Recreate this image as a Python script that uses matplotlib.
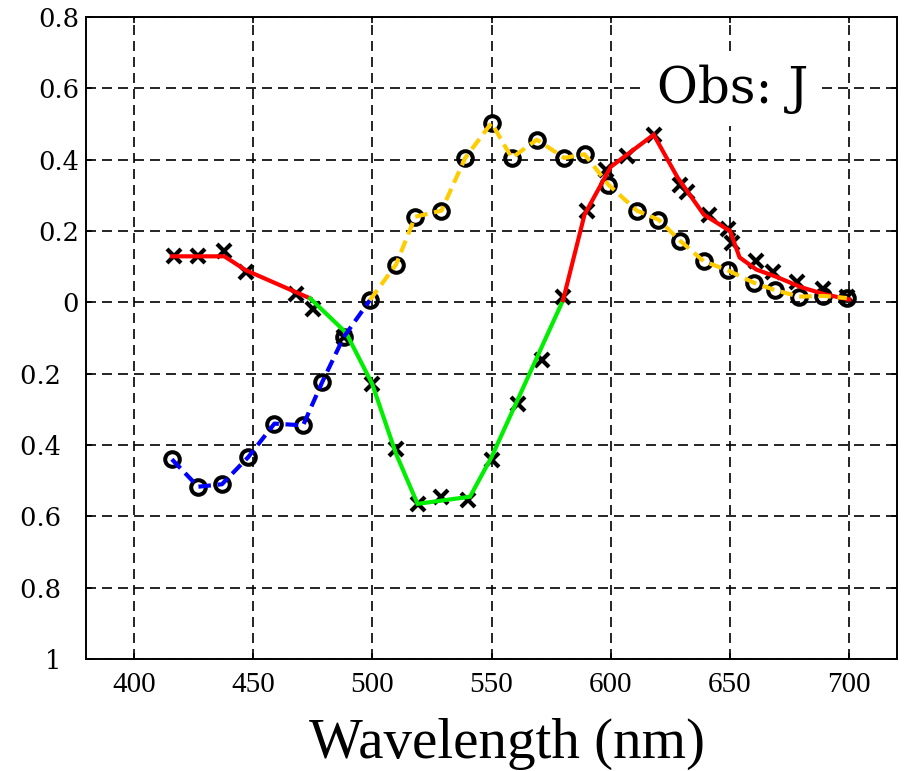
import numpy as np
import matplotlib
matplotlib.use("Agg")
import matplotlib.pyplot as plt

# ---- data ----
# r-bar observations (black x markers)
r_wl = [417, 427, 438, 447, 468, 475, 488, 500, 510, 519, 529, 540, 550, 561,
        571, 580, 590, 598, 607, 618, 629, 632, 641, 649, 651, 661, 668, 678, 689, 699]
r_val = [0.131, 0.131, 0.143, 0.084, 0.022, -0.02, -0.098, -0.229, -0.41, -0.565,
         -0.545, -0.554, -0.442, -0.285, -0.162, 0.014, 0.255, 0.37, 0.41, 0.47,
         0.33, 0.308, 0.245, 0.205, 0.165, 0.117, 0.084, 0.056, 0.036, 0.014]

# r-bar fitted curve (solid, red when positive / green when negative)
rl_wl = [416, 438, 447, 474, 489, 500, 510, 519, 530, 541, 550, 580, 589, 600,
         618, 628, 639, 650, 654, 661, 670, 680, 690, 700]
rl_val = [0.129, 0.129, 0.09, 0.011, -0.085, -0.229, -0.425, -0.565, -0.555,
          -0.545, -0.434, 0.006, 0.246, 0.38, 0.47, 0.35, 0.246, 0.2, 0.126,
          0.092, 0.07, 0.042, 0.022, 0.008]

# g-bar observations (black open circles) and dashed curve
g_wl = [416, 427, 437, 448, 459, 471, 479, 488, 499, 510, 518, 529, 539, 550,
        558.5, 569, 580.5, 589, 599, 611, 620, 629, 639, 649, 660, 669, 679, 689, 699]
g_val = [-0.44, -0.517, -0.51, -0.434, -0.34, -0.345, -0.224, -0.098, 0.006,
         0.106, 0.24, 0.257, 0.405, 0.503, 0.405, 0.456, 0.405, 0.415, 0.33,
         0.257, 0.232, 0.173, 0.115, 0.09, 0.055, 0.034, 0.016, 0.018, 0.012]

x_ticks = [400, 450, 500, 550, 600, 650, 700]
y_ticks = [0.8, 0.6, 0.4, 0.2, 0.0, -0.2, -0.4, -0.6, -0.8, -1.0]
obs_label = "Obs: J"
x_label = "Wavelength (nm)"


def plot_signed(ax, x, y, pos_color, neg_color, **kw):
    x = np.asarray(x, float)
    y = np.asarray(y, float)
    signs = (y[:-1] + y[1:]) / 2 >= 0
    start = 0
    for i in range(1, len(signs) + 1):
        if i == len(signs) or signs[i] != signs[start]:
            ax.plot(x[start:i + 1], y[start:i + 1],
                    color=pos_color if signs[start] else neg_color, **kw)
            start = i


fig = plt.figure(figsize=(9.05, 7.71), dpi=100)
ax = fig.add_axes([86 / 905, 1 - 659 / 771, 811 / 905, 642 / 771])

ax.set_xlim(380, 720)
ax.set_ylim(-1.0, 0.8)

# markers underneath
ax.plot(r_wl, r_val, linestyle="none", marker="x", color="black",
        markersize=10.5, markeredgewidth=3.0, zorder=3)
ax.plot(g_wl, g_val, linestyle="none", marker="o", markerfacecolor="none",
        markeredgecolor="black", markersize=10.5, markeredgewidth=2.9, zorder=3)

# curves on top
plot_signed(ax, rl_wl, rl_val, "#ff0000", "#00ee00", linewidth=3.0,
            solid_joinstyle="miter", zorder=4)
plot_signed(ax, g_wl, g_val, "#ffcc00", "#0000ff", linewidth=3.0,
            linestyle=(0, (3, 1.6)), zorder=4)

# grid
ax.set_axisbelow(True)
ax.grid(True, color="black", linestyle=(0, (6, 3.6)), linewidth=1.2)

# ticks
ax.set_xticks(x_ticks)
ax.set_xticklabels([str(t) for t in x_ticks], fontfamily="Liberation Serif",
                   fontsize=21)
ax.set_yticks(y_ticks)
ylabels = []
for v in y_ticks:
    if v < 0:
        s = ("%g" % abs(v)) + "\u2002\u2009"
    else:
        s = "%g" % v
    ylabels.append(s)
ax.set_yticklabels(ylabels, fontfamily="DejaVu Serif", fontsize=18.5)
ax.tick_params(axis="both", direction="in", length=4, width=1.2,
               top=True, right=True, color="black")
ax.tick_params(axis="x", pad=9)
ax.tick_params(axis="y", pad=5)

for sp in ax.spines.values():
    sp.set_linewidth(1.4)
    sp.set_color("black")

ax.set_xlabel(x_label, fontfamily="Liberation Serif", fontsize=41)
ax.xaxis.set_label_coords(0.519, -0.092)

ax.text(651, 0.598, obs_label, fontfamily="DejaVu Serif", fontsize=36,
        ha="center", va="center", zorder=5,
        bbox=dict(facecolor="white", edgecolor="none", pad=9))

fig.savefig("out.png", dpi=100)
